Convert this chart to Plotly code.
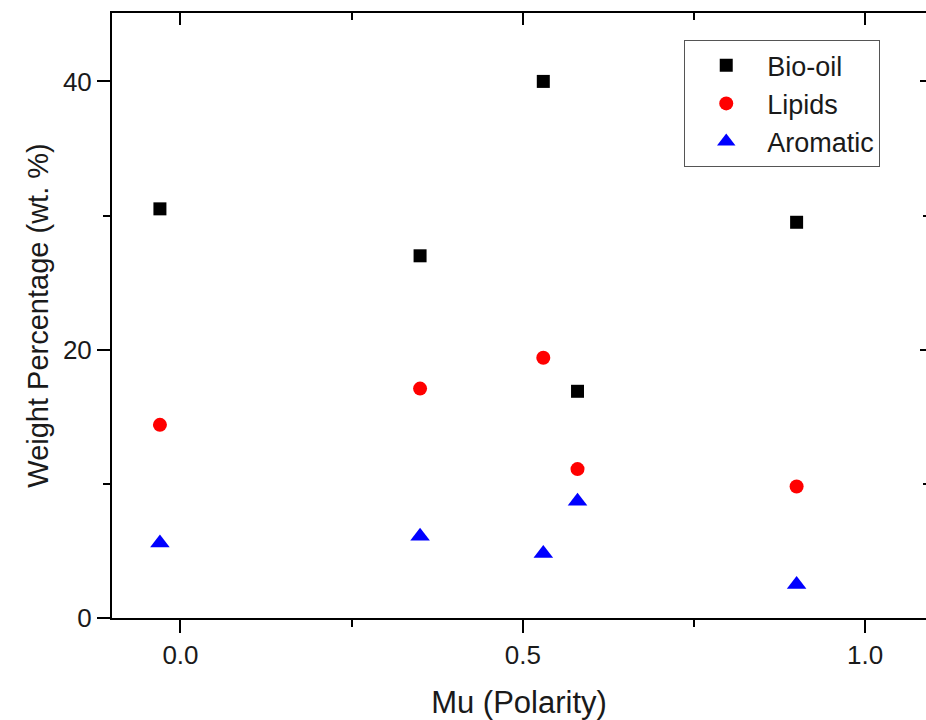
import plotly.graph_objects as go

mu_bio = [-0.03, 0.35, 0.53, 0.58, 0.90]
bio_oil = [30.5, 27.0, 40.0, 16.9, 29.5]
mu_lip = [-0.03, 0.35, 0.53, 0.58, 0.90]
lipids = [14.4, 17.1, 19.4, 11.1, 9.8]
mu_aro = [-0.03, 0.35, 0.53, 0.58, 0.90]
aromatic = [5.6, 6.1, 4.8, 8.7, 2.5]

x_ticks = [0.0, 0.5, 1.0]
x_ticklabels = ["0.0", "0.5", "1.0"]
x_minor = [0.25, 0.75]
y_ticks = [0, 20, 40]
y_ticklabels = ["0", "20", "40"]
y_minor = [10, 30]

xrange = [-0.1, 1.089]
yrange = [0, 45.1]
font = "Liberation Sans, Arial, sans-serif"
txt = "#1a1a1a"

fig = go.Figure()
fig.add_trace(go.Scatter(x=mu_bio, y=bio_oil, mode="markers", name="Bio-oil",
                         marker=dict(symbol="square", size=13, color="black")))
fig.add_trace(go.Scatter(x=mu_lip, y=lipids, mode="markers", name="Lipids",
                         marker=dict(symbol="circle", size=14, color="#ff0000")))
fig.add_trace(go.Scatter(x=mu_aro, y=aromatic, mode="markers", name="Aromatic",
                         marker=dict(symbol="triangle-up", size=17, color="#0000ff")))
# helper trace for mirrored (top/right) axes
fig.add_trace(go.Scatter(x=[None], y=[None], xaxis="x2", yaxis="y2",
                         showlegend=False, hoverinfo="skip"))

fig.update_layout(
    width=926, height=720,
    margin=dict(l=112, r=0, t=13, b=102),
    paper_bgcolor="white", plot_bgcolor="white",
    font=dict(family=font, color=txt, size=26),
    xaxis=dict(range=xrange, showgrid=False, zeroline=False, showline=True,
               linecolor="black", linewidth=2, ticks="outside", ticklen=13,
               tickwidth=2, tickcolor="black", tickmode="array",
               tickvals=x_ticks, ticktext=x_ticklabels,
               tickfont=dict(size=26, color=txt),
               minor=dict(tickmode="array", tickvals=x_minor, ticks="outside",
                          ticklen=7, tickwidth=2, tickcolor="black"),
               title=dict(text="Mu (Polarity)", font=dict(size=31, color=txt), standoff=24)),
    yaxis=dict(range=yrange, showgrid=False, zeroline=False, showline=True,
               linecolor="black", linewidth=2, ticks="outside", ticklen=13,
               tickwidth=2, tickcolor="black", tickmode="array",
               tickvals=y_ticks, ticktext=y_ticklabels,
               tickfont=dict(size=26, color=txt),
               minor=dict(tickmode="array", tickvals=y_minor, ticks="outside",
                          ticklen=7, tickwidth=2, tickcolor="black"),
               title=dict(text="Weight Percentage (wt. %)", font=dict(size=29, color=txt), standoff=6)),
    xaxis2=dict(range=xrange, overlaying="x", side="top", anchor="y2",
                showgrid=False, zeroline=False, showline=True, linecolor="black",
                linewidth=2, ticks="inside", ticklen=12, tickwidth=2, tickcolor="black",
                tickmode="array", tickvals=x_ticks, showticklabels=False,
                minor=dict(tickmode="array", tickvals=x_minor, ticks="inside",
                           ticklen=7, tickwidth=2, tickcolor="black")),
    yaxis2=dict(range=yrange, overlaying="y", side="right", anchor="x2",
                showgrid=False, zeroline=False, showline=False,
                ticks="inside", ticklen=6, tickwidth=2, tickcolor="black",
                tickmode="array", tickvals=y_ticks, showticklabels=False,
                minor=dict(tickmode="array", tickvals=y_minor, ticks="inside",
                           ticklen=3, tickwidth=2, tickcolor="black")),
    legend=dict(x=0.703, y=0.955, xanchor="left", yanchor="top",
                bgcolor="white", bordercolor="#555", borderwidth=1,
                font=dict(size=27, color=txt), tracegroupgap=0,
                itemwidth=72),
    showlegend=True,
)

fig.write_html("out.html", config={"displayModeBar": False},
               post_script="document.body.style.margin='0';document.body.style.overflow='hidden';")
